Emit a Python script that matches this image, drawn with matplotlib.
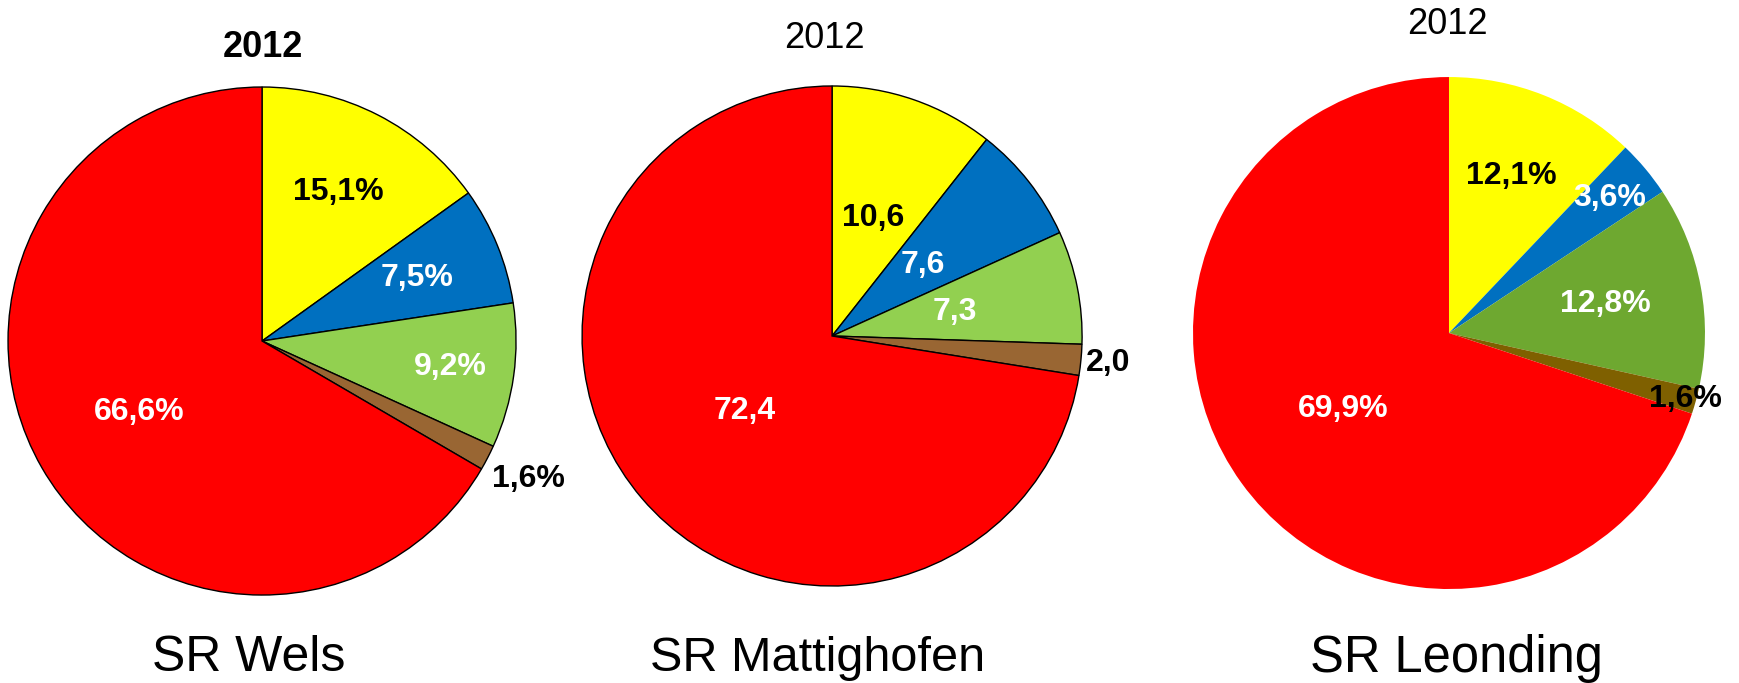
import numpy as np
import matplotlib
matplotlib.use("Agg")
import matplotlib.pyplot as plt

plt.rcParams["font.family"] = ["Liberation Sans", "DejaVu Sans"]

# shares per region, clockwise from 12 o'clock
regions = ["SR Wels", "SR Mattighofen", "SR Leonding"]
wels = [15.1, 7.5, 9.2, 1.6, 66.6]
matt = [10.6, 7.6, 7.3, 2.0, 72.4]
leon = [12.1, 3.6, 12.8, 1.6, 69.9]

wels_labels = ["15,1%", "7,5%", "9,2%", "1,6%", "66,6%"]
matt_labels = ["10,6", "7,6", "7,3", "2,0", "72,4"]
leon_labels = ["12,1%", "3,6%", "12,8%", "1,6%", "69,9%"]

colors_a = ["#FFFF00", "#0070C0", "#92D050", "#996633", "#FF0000"]
colors_b = ["#FFFF00", "#0070C0", "#6EA830", "#7F6000", "#FF0000"]
text_cols = ["black", "white", "white", "black", "white"]

# radial position of each label (fraction of radius)
wels_dist = [0.66, 0.66, 0.75, 1.18, 0.56]
matt_dist = [0.50, 0.46, 0.50, 1.11, 0.46]
leon_dist = [0.66, 0.82, 0.62, 0.96, 0.51]

fig = plt.figure(figsize=(17.4, 6.83), dpi=100)

panels = [
    # axes box, values, labels, label dists, colours, edge, title y, title weight
    ([0.0046, 0.1288, 0.2920, 0.7438], wels, wels_labels, wels_dist, colors_a, True, 0.931, "bold"),
    ([0.3345, 0.1420, 0.2874, 0.7321], matt, matt_labels, matt_dist, colors_a, True, 0.943, "normal"),
    ([0.6856, 0.1376, 0.2943, 0.7496], leon, leon_labels, leon_dist, colors_b, False, 0.964, "normal"),
]
name_x = [0.143, 0.470, 0.837]
title_x = [0.151, 0.474, 0.832]
name_size = [36, 35, 36.5]

for k, (box, vals, labs, dists, cols, edge, ty, tw) in enumerate(panels):
    ax = fig.add_axes(box)
    wp = dict(edgecolor="black", linewidth=1.0) if edge else dict(linewidth=0)
    wedges, _ = ax.pie(vals, colors=cols, startangle=90, counterclock=False,
                       radius=1.0, wedgeprops=wp)
    for w, lab, d, tc in zip(wedges, labs, dists, text_cols):
        ang = np.deg2rad((w.theta1 + w.theta2) / 2)
        ax.text(d * np.cos(ang), d * np.sin(ang), lab, ha="center", va="center",
                fontsize=23, fontweight="bold", color=tc)
    ax.set_xlim(-1, 1)
    ax.set_ylim(-1, 1)
    ax.set_aspect("equal")
    ax.axis("off")
    fig.text(title_x[k], ty, "2012", ha="center", va="center", fontsize=26, fontweight=tw)
    fig.text(name_x[k], 0.036, regions[k], ha="center", va="center", fontsize=name_size[k])

plt.savefig("out.png", dpi=100)
